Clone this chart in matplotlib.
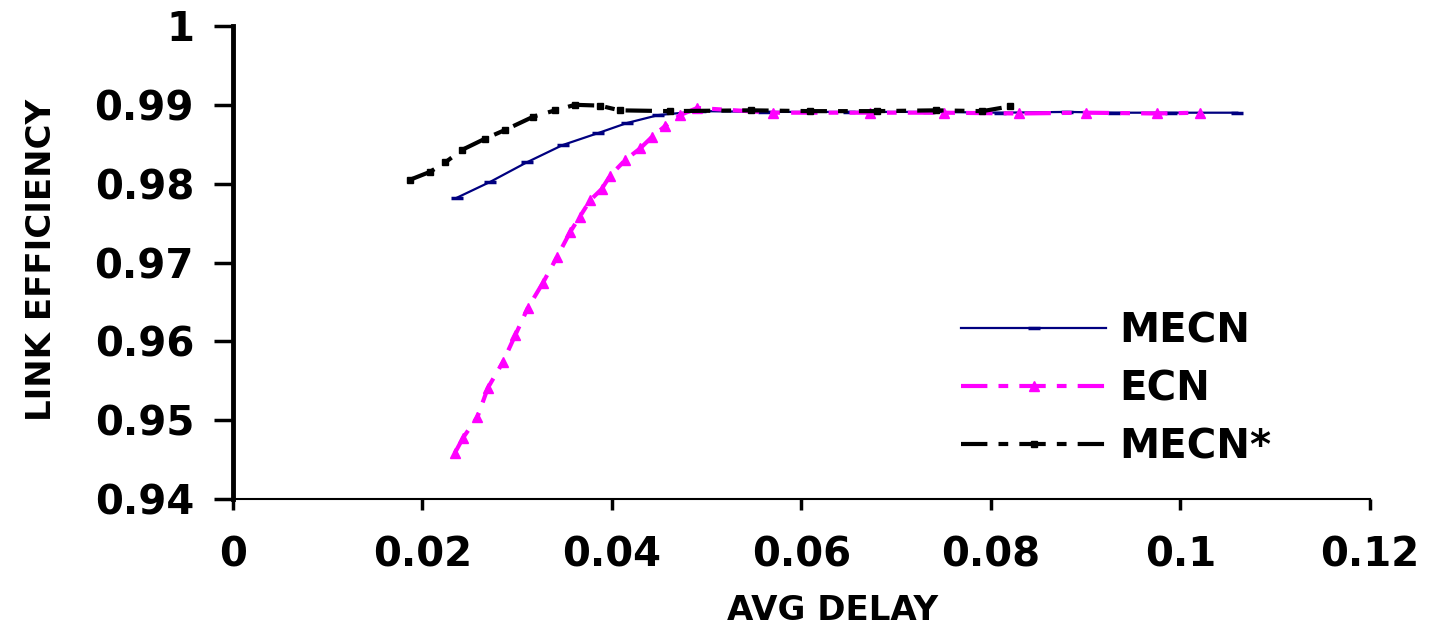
import matplotlib
matplotlib.use("Agg")
import matplotlib.pyplot as plt

# Dane
mecn_x = [0.0236, 0.0271, 0.0310, 0.0348, 0.0385, 0.0416, 0.0449, 0.0493,
          0.0560, 0.0650, 0.0735, 0.0810, 0.0880, 0.0930, 0.0990, 0.1060]
mecn_y = [0.9782, 0.9802, 0.9827, 0.9849, 0.9864, 0.9877, 0.9887, 0.9892,
          0.9891, 0.9891, 0.9891, 0.9890, 0.9891, 0.9890, 0.9890, 0.9890]

ecn_x = [0.0234, 0.0243, 0.0258, 0.0269, 0.0285, 0.0298, 0.0311, 0.0327,
         0.0342, 0.0356, 0.0366, 0.0377, 0.0389, 0.0398, 0.0414, 0.0430,
         0.0442, 0.0456, 0.0472, 0.0490, 0.0570, 0.0672, 0.0750, 0.0830,
         0.0900, 0.0975, 0.1021]
ecn_y = [0.9458, 0.9478, 0.9504, 0.9541, 0.9574, 0.9608, 0.9642, 0.9674,
         0.9707, 0.9739, 0.9758, 0.9779, 0.9793, 0.9810, 0.9830, 0.9845,
         0.9859, 0.9873, 0.9887, 0.9896, 0.9890, 0.9890, 0.9890, 0.9889,
         0.9890, 0.9889, 0.9890]

mecn2_x = [0.0187, 0.0208, 0.0224, 0.0242, 0.0266, 0.0287, 0.0317, 0.0340,
           0.0361, 0.0387, 0.0408, 0.0461, 0.0547, 0.0609, 0.0680, 0.0742,
           0.0791, 0.0820]
mecn2_y = [0.9805, 0.9815, 0.9827, 0.9843, 0.9857, 0.9868, 0.9885, 0.9893,
           0.9900, 0.9899, 0.9893, 0.9892, 0.9893, 0.9892, 0.9892, 0.9893,
           0.9892, 0.9898]

x_ticks = [0, 0.02, 0.04, 0.06, 0.08, 0.1, 0.12]
x_labels = ["0", "0.02", "0.04", "0.06", "0.08", "0.1", "0.12"]
y_ticks = [0.94, 0.95, 0.96, 0.97, 0.98, 0.99, 1.0]
y_labels = ["0.94", "0.95", "0.96", "0.97", "0.98", "0.99", "1"]

plt.rcParams['lines.scale_dashes'] = False
plt.rcParams['font.family'] = ['DejaVu Sans']

fig = plt.figure(figsize=(14.32, 6.32), dpi=100)
ax = fig.add_axes([0.1627, 0.2104, 0.794, 0.7485])

ax.plot(mecn_x, mecn_y, color='#000080', lw=1.6, marker='_', ms=9, mew=2.5,
        label='MECN')
ax.plot(ecn_x, ecn_y, color='#FF00FF', lw=3, dashes=[19, 8, 7, 8],
        marker='^', ms=7, mec='#FF00FF', label='ECN')
ax.plot(mecn2_x, mecn2_y, color='black', lw=3, dashes=[19, 8, 7, 8],
        marker='s', ms=5, label='MECN*')

ax.set_xlim(0, 0.12)
ax.set_ylim(0.94, 1.0)
ax.set_xticks(x_ticks)
ax.set_xticklabels(x_labels)
ax.set_yticks(y_ticks)
ax.set_yticklabels(y_labels)

for lbl in ax.get_xticklabels() + ax.get_yticklabels():
    lbl.set_fontsize(29)
    lbl.set_fontweight('bold')

ax.spines['top'].set_visible(False)
ax.spines['right'].set_visible(False)
ax.spines['left'].set_linewidth(3.5)
ax.spines['bottom'].set_linewidth(1.5)
ax.tick_params(axis='y', direction='out', length=14, width=2.5, pad=14)
ax.tick_params(axis='x', direction='out', length=8, width=2.5, pad=18)

ax.set_xlabel("AVG DELAY", fontsize=24.5, fontweight='bold')
ax.set_ylabel("LINK EFFICIENCY", fontsize=24.5, fontweight='bold')
ax.xaxis.set_label_coords(0.527, -0.20)
ax.yaxis.set_label_coords(-0.154, 0.505)

ax.legend(loc='upper left', bbox_to_anchor=(0.640, 0.397), frameon=False,
          prop={'size': 29, 'weight': 'bold'}, handlelength=3.62,
          handletextpad=0.32, labelspacing=0.45, borderpad=0,
          borderaxespad=0)

fig.savefig("out.png", dpi=100)
